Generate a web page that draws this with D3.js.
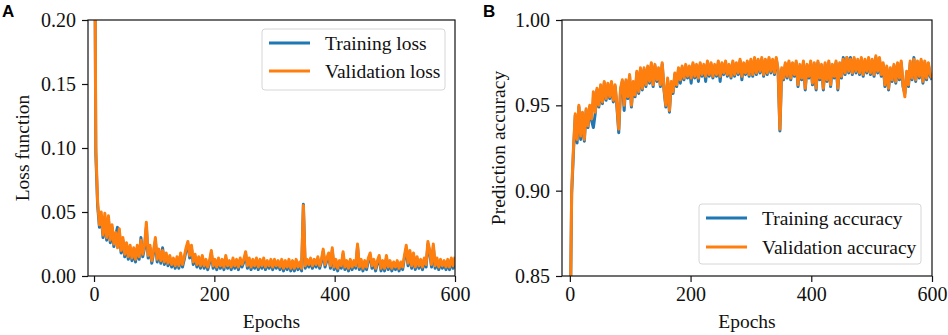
<!DOCTYPE html>
<html>
<head>
<meta charset="utf-8">
<script src="https://cdn.jsdelivr.net/npm/d3@7"></script>
<style>
  html, body { margin: 0; padding: 0; background: #fff; }
  svg { display: block; }
  text { font-family: "Liberation Serif", "Times New Roman", serif; fill: #111; }
  text.letter { font-family: "Liberation Sans", Arial, sans-serif; font-weight: bold; fill: #000; }
</style>
</head>
<body>
<svg id="chart" width="948" height="335"></svg>
<script>
// ---- Data (one value every 3 epochs, 0..600) ----
const epochs = d3.range(0, 601, 3);

const trainingLoss = [
  0.400, 0.095, 0.055, 0.038, 0.047, 0.030, 0.046, 0.028, 0.044, 0.026,
  0.038, 0.023, 0.032, 0.038, 0.035, 0.018, 0.028, 0.015, 0.024, 0.013,
  0.022, 0.012, 0.020, 0.011, 0.022, 0.013, 0.030, 0.015, 0.022, 0.038,
  0.014, 0.022, 0.010, 0.018, 0.027, 0.011, 0.019, 0.010, 0.022, 0.009,
  0.016, 0.008, 0.014, 0.007, 0.012, 0.006, 0.013, 0.006, 0.016, 0.007,
  0.013, 0.020, 0.025, 0.014, 0.022, 0.009, 0.015, 0.007, 0.013, 0.006,
  0.014, 0.006, 0.011, 0.005, 0.010, 0.018, 0.006, 0.011, 0.005, 0.012,
  0.006, 0.011, 0.005, 0.014, 0.006, 0.010, 0.005, 0.012, 0.006, 0.011,
  0.005, 0.012, 0.007, 0.011, 0.017, 0.006, 0.012, 0.005, 0.011, 0.006,
  0.012, 0.005, 0.011, 0.006, 0.012, 0.005, 0.010, 0.006, 0.011, 0.005,
  0.011, 0.006, 0.010, 0.005, 0.011, 0.004, 0.010, 0.005, 0.011, 0.004,
  0.010, 0.004, 0.011, 0.005, 0.009, 0.004, 0.056, 0.006, 0.011, 0.007,
  0.012, 0.006, 0.011, 0.007, 0.013, 0.006, 0.011, 0.019, 0.007, 0.012,
  0.016, 0.006, 0.020, 0.005, 0.011, 0.004, 0.010, 0.006, 0.017, 0.005,
  0.010, 0.004, 0.011, 0.005, 0.010, 0.006, 0.023, 0.005, 0.011, 0.004,
  0.010, 0.005, 0.012, 0.016, 0.006, 0.011, 0.004, 0.010, 0.014, 0.004,
  0.010, 0.004, 0.014, 0.005, 0.010, 0.004, 0.009, 0.005, 0.010, 0.004,
  0.009, 0.005, 0.014, 0.021, 0.008, 0.018, 0.006, 0.016, 0.005, 0.013,
  0.006, 0.011, 0.005, 0.012, 0.007, 0.025, 0.018, 0.007, 0.023, 0.006,
  0.012, 0.005, 0.011, 0.006, 0.010, 0.005, 0.011, 0.005, 0.012, 0.006,
  0.013
];

const validationLoss = [
  0.400, 0.100, 0.058, 0.040, 0.050, 0.032, 0.049, 0.030, 0.047, 0.028,
  0.040, 0.025, 0.034, 0.022, 0.037, 0.020, 0.030, 0.017, 0.026, 0.015,
  0.024, 0.014, 0.022, 0.013, 0.024, 0.015, 0.028, 0.017, 0.024, 0.042,
  0.016, 0.024, 0.012, 0.020, 0.030, 0.013, 0.021, 0.012, 0.020, 0.011,
  0.018, 0.010, 0.016, 0.009, 0.014, 0.008, 0.015, 0.008, 0.018, 0.009,
  0.015, 0.022, 0.027, 0.016, 0.024, 0.011, 0.017, 0.009, 0.015, 0.008,
  0.016, 0.008, 0.013, 0.007, 0.012, 0.020, 0.008, 0.013, 0.007, 0.014,
  0.008, 0.013, 0.007, 0.016, 0.008, 0.012, 0.007, 0.014, 0.008, 0.013,
  0.007, 0.014, 0.009, 0.013, 0.019, 0.008, 0.014, 0.007, 0.013, 0.008,
  0.014, 0.007, 0.013, 0.008, 0.014, 0.007, 0.012, 0.008, 0.013, 0.007,
  0.013, 0.008, 0.012, 0.007, 0.013, 0.006, 0.012, 0.007, 0.013, 0.006,
  0.012, 0.006, 0.013, 0.007, 0.011, 0.006, 0.055, 0.008, 0.013, 0.009,
  0.014, 0.008, 0.013, 0.009, 0.015, 0.008, 0.013, 0.021, 0.009, 0.014,
  0.018, 0.008, 0.022, 0.007, 0.013, 0.006, 0.012, 0.008, 0.019, 0.007,
  0.012, 0.006, 0.013, 0.007, 0.012, 0.008, 0.025, 0.007, 0.013, 0.006,
  0.012, 0.007, 0.014, 0.018, 0.008, 0.013, 0.006, 0.012, 0.016, 0.006,
  0.012, 0.006, 0.016, 0.007, 0.012, 0.006, 0.011, 0.007, 0.012, 0.006,
  0.011, 0.007, 0.016, 0.024, 0.010, 0.020, 0.008, 0.018, 0.007, 0.015,
  0.008, 0.013, 0.007, 0.014, 0.009, 0.027, 0.020, 0.009, 0.025, 0.008,
  0.014, 0.007, 0.013, 0.008, 0.012, 0.007, 0.013, 0.007, 0.014, 0.008,
  0.015
];

const trainingAccuracy = [
  0.800, 0.898, 0.923, 0.944, 0.928, 0.949, 0.930, 0.945, 0.929, 0.947,
  0.937, 0.949, 0.941, 0.937, 0.945, 0.959, 0.949, 0.961, 0.951, 0.963,
  0.953, 0.962, 0.954, 0.963, 0.952, 0.961, 0.949, 0.934, 0.959, 0.964,
  0.947, 0.964, 0.954, 0.967, 0.949, 0.963, 0.955, 0.969, 0.957, 0.971,
  0.959, 0.971, 0.961, 0.972, 0.963, 0.974, 0.961, 0.973, 0.964, 0.971,
  0.961, 0.974, 0.959, 0.949, 0.965, 0.946, 0.963, 0.957, 0.968, 0.961,
  0.971, 0.963, 0.972, 0.965, 0.973, 0.966, 0.972, 0.963, 0.974, 0.966,
  0.973, 0.964, 0.974, 0.967, 0.973, 0.964, 0.975, 0.967, 0.974, 0.966,
  0.973, 0.967, 0.975, 0.964, 0.974, 0.968, 0.975, 0.967, 0.973, 0.966,
  0.975, 0.967, 0.974, 0.968, 0.976, 0.965, 0.974, 0.968, 0.975, 0.967,
  0.976, 0.967, 0.977, 0.968, 0.976, 0.969, 0.977, 0.967, 0.976, 0.968,
  0.977, 0.969, 0.976, 0.968, 0.977, 0.970, 0.935, 0.971, 0.965, 0.974,
  0.966, 0.975, 0.965, 0.974, 0.967, 0.975, 0.961, 0.973, 0.965, 0.975,
  0.959, 0.973, 0.966, 0.975, 0.962, 0.974, 0.959, 0.975, 0.965, 0.973,
  0.959, 0.974, 0.964, 0.975, 0.961, 0.973, 0.966, 0.975, 0.959, 0.974,
  0.966, 0.978, 0.968, 0.978, 0.969, 0.978, 0.968, 0.977, 0.969, 0.976,
  0.968, 0.977, 0.967, 0.976, 0.969, 0.977, 0.968, 0.976, 0.967, 0.978,
  0.969, 0.977, 0.967, 0.974, 0.961, 0.972, 0.959, 0.971, 0.964, 0.973,
  0.963, 0.974, 0.965, 0.975, 0.961, 0.957, 0.969, 0.961, 0.975, 0.965,
  0.978, 0.964, 0.975, 0.966, 0.976, 0.963, 0.975, 0.965, 0.974, 0.967,
  0.965
];

const validationAccuracy = [
  0.800, 0.900, 0.925, 0.945, 0.930, 0.950, 0.932, 0.946, 0.930, 0.948,
  0.938, 0.950, 0.942, 0.958, 0.946, 0.960, 0.950, 0.962, 0.952, 0.964,
  0.954, 0.963, 0.955, 0.964, 0.953, 0.962, 0.950, 0.936, 0.960, 0.965,
  0.950, 0.965, 0.955, 0.968, 0.950, 0.964, 0.956, 0.970, 0.958, 0.972,
  0.960, 0.972, 0.962, 0.973, 0.964, 0.975, 0.962, 0.974, 0.965, 0.972,
  0.962, 0.975, 0.960, 0.950, 0.966, 0.947, 0.964, 0.958, 0.969, 0.962,
  0.972, 0.965, 0.973, 0.966, 0.974, 0.967, 0.973, 0.966, 0.975, 0.967,
  0.974, 0.966, 0.975, 0.968, 0.974, 0.967, 0.976, 0.968, 0.975, 0.967,
  0.974, 0.968, 0.976, 0.967, 0.975, 0.969, 0.976, 0.968, 0.974, 0.967,
  0.976, 0.968, 0.975, 0.969, 0.977, 0.967, 0.975, 0.969, 0.976, 0.968,
  0.977, 0.968, 0.978, 0.969, 0.977, 0.970, 0.978, 0.968, 0.977, 0.969,
  0.978, 0.970, 0.977, 0.969, 0.978, 0.971, 0.936, 0.972, 0.966, 0.975,
  0.967, 0.976, 0.966, 0.975, 0.968, 0.976, 0.962, 0.974, 0.966, 0.976,
  0.960, 0.974, 0.967, 0.976, 0.963, 0.975, 0.960, 0.976, 0.966, 0.974,
  0.960, 0.975, 0.965, 0.976, 0.962, 0.974, 0.967, 0.976, 0.960, 0.975,
  0.967, 0.977, 0.969, 0.978, 0.970, 0.977, 0.969, 0.978, 0.970, 0.977,
  0.969, 0.978, 0.968, 0.977, 0.970, 0.978, 0.969, 0.977, 0.968, 0.979,
  0.970, 0.978, 0.968, 0.975, 0.962, 0.973, 0.960, 0.972, 0.965, 0.974,
  0.964, 0.975, 0.966, 0.976, 0.962, 0.955, 0.970, 0.962, 0.976, 0.966,
  0.977, 0.965, 0.976, 0.967, 0.977, 0.964, 0.976, 0.966, 0.975, 0.968,
  0.966
];

const xTicks = [0, 200, 400, 600];
const lossTicks = [0.00, 0.05, 0.10, 0.15, 0.20];
const accTicks = [0.85, 0.90, 0.95, 1.00];
const lossLegend = ["Training loss", "Validation loss"];
const accLegend = ["Training accuracy", "Validation accuracy"];
const colors = ["#1f77b4", "#ff7f0e"];

// ---- Drawing ----
const svg = d3.select("#chart");
svg.append("rect").attr("width", 948).attr("height", 335).attr("fill", "#fff");

function panel(cfg) {
  const { id, left, right, top, bottom, xDomain, yDomain, yTicks, yFmt,
          series, legendLabels, legend, yLabel, yLabelX, letter, letterX } = cfg;
  const x = d3.scaleLinear().domain(xDomain).range([left, right]);
  const y = d3.scaleLinear().domain(yDomain).range([bottom, top]);
  const g = svg.append("g");

  g.append("clipPath").attr("id", "clip-" + id)
    .append("rect").attr("x", left).attr("y", top)
    .attr("width", right - left).attr("height", bottom - top);

  const line = d3.line().x((d, i) => x(epochs[i])).y(d => y(d));
  series.forEach((s, k) => {
    g.append("path").datum(s)
      .attr("clip-path", `url(#clip-${id})`)
      .attr("fill", "none").attr("stroke", colors[k])
      .attr("stroke-width", 3).attr("stroke-linejoin", "round")
      .attr("d", line);
  });

  const xAxis = d3.axisBottom(x).tickValues(xTicks).tickSize(6).tickPadding(5).tickFormat(d3.format("d"));
  const yAxis = d3.axisLeft(y).tickValues(yTicks).tickSize(6).tickPadding(6).tickFormat(yFmt);
  const gx = g.append("g").attr("transform", `translate(0,${bottom})`).call(xAxis);
  const gy = g.append("g").attr("transform", `translate(${left},0)`).call(yAxis);
  [gx, gy].forEach(a => {
    a.attr("font-family", null).attr("font-size", null);
    a.select(".domain").remove();
    a.selectAll(".tick line").attr("stroke", "#111").attr("stroke-width", 1.2);
    a.selectAll(".tick text").style("font-size", "20px");
  });

  g.append("rect").attr("x", left).attr("y", top)
    .attr("width", right - left).attr("height", bottom - top)
    .attr("fill", "none").attr("stroke", "#111").attr("stroke-width", 1.2);

  g.append("text").attr("x", (left + right) / 2).attr("y", 328)
    .attr("text-anchor", "middle").style("font-size", "19.5px").text("Epochs");
  g.append("text").attr("transform", `translate(${yLabelX},${(top + bottom) / 2}) rotate(-90)`)
    .attr("text-anchor", "middle").style("font-size", "19.5px").text(yLabel);
  g.append("text").attr("class", "letter").attr("x", letterX).attr("y", 17)
    .style("font-size", "17px").text(letter);

  const lg = g.append("g");
  lg.append("rect").attr("x", legend.x).attr("y", legend.y)
    .attr("width", legend.w).attr("height", legend.h).attr("rx", 3)
    .attr("fill", "#fff").attr("fill-opacity", 0.85)
    .attr("stroke", "#d6d6d6").attr("stroke-width", 1);
  legendLabels.forEach((lab, k) => {
    const ly = legend.y + legend.first + k * legend.gap;
    lg.append("line").attr("x1", legend.x + 7).attr("x2", legend.x + 48)
      .attr("y1", ly).attr("y2", ly).attr("stroke", colors[k]).attr("stroke-width", 3);
    lg.append("text").attr("x", legend.x + 63).attr("y", ly + 6.5)
      .style("font-size", "19.5px").text(lab);
  });
}

panel({
  id: "a", left: 88, right: 455, top: 20, bottom: 276,
  xDomain: [-10, 600], yDomain: [0, 0.2], yTicks: lossTicks, yFmt: d3.format(".2f"),
  series: [trainingLoss, validationLoss], legendLabels: lossLegend,
  legend: { x: 262, y: 29, w: 183, h: 61, first: 14, gap: 28 },
  yLabel: "Loss function", yLabelX: 29, letter: "A", letterX: 2
});

panel({
  id: "b", left: 562, right: 932, top: 20, bottom: 276,
  xDomain: [-13, 600], yDomain: [0.85, 1.0], yTicks: accTicks, yFmt: d3.format(".2f"),
  series: [trainingAccuracy, validationAccuracy], legendLabels: accLegend,
  legend: { x: 699, y: 204, w: 222, h: 60, first: 14, gap: 29 },
  yLabel: "Prediction accuracy", yLabelX: 505, letter: "B", letterX: 483
});
</script>
</body>
</html>
